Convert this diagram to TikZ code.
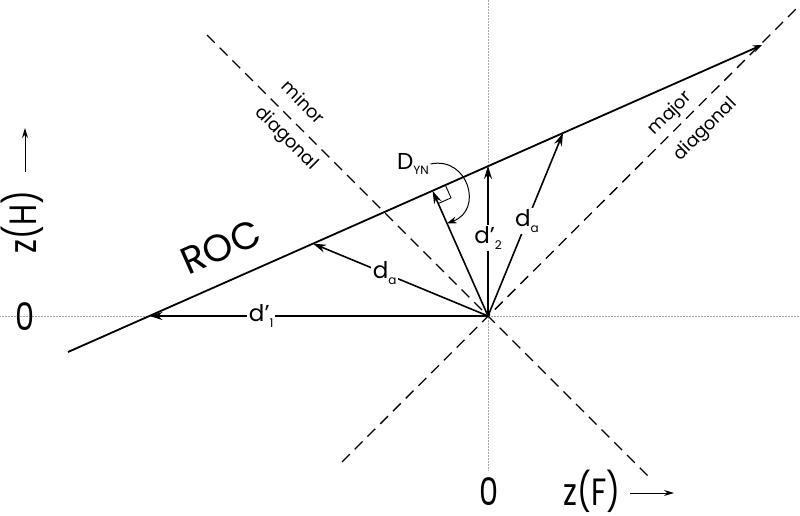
\documentclass[tikz,border=0pt]{standalone}
\usepackage{fontspec}
\usepackage{graphicx}
\setmainfont{Poppins}
\usetikzlibrary{arrows.meta, calc}
\newcommand{\lsub}[1]{\raisebox{-0.45ex}{\fontsize{12}{12}\selectfont #1}}
\newcommand{\narrow}[1]{\scalebox{0.8}[1]{#1}}

\begin{document}
\begin{tikzpicture}[x=1pt, y=-1pt,
        every node/.style={font=\fontsize{23}{23}\selectfont, inner sep=1.5pt},
        bigtext/.style={font=\fontsize{38}{38}\selectfont},
        diagtext/.style={font=\fontsize{18}{36}\selectfont, align=left},
        guide/.style={gray!70, line width=0.5pt, densely dotted},
        diag/.style={line width=1.3pt, dash pattern=on 11pt off 7pt},
        vec/.style={line width=1.6pt, -{Stealth[length=13pt,width=8pt]}},
        axarrow/.style={line width=1pt, -{Stealth[length=10pt,width=6pt]}},
        lbl/.style={fill=white}]
    \useasboundingbox (0,0) rectangle (800,516);

    % thin axes through the origin
    \coordinate (O) at (488,316);
    \coordinate (hL) at (0,316);
    \coordinate (hR) at (800,316);
    \coordinate (vT) at (488,0);
    \coordinate (vB) at (488,470);
    \draw[guide] (hL) -- (hR);
    \draw[guide] (vT) -- (vB);

    % diagonals
    \coordinate (majL) at (342,462);
    \coordinate (majR) at (797,8);
    \coordinate (minL) at (207,35);
    \coordinate (minR) at (650,478);
    \draw[diag] (majL) -- (majR);
    \draw[diag] (minL) -- (minR);

    % ROC line
    \coordinate (rocL) at (68,352);
    \coordinate (rocR) at (762,45);
    \draw[line width=1.8pt, -{Stealth[length=9pt,width=7pt]}] (rocL) -- (rocR);
    \node[font=\fontsize{38}{38}\selectfont, rotate=24] (roclabel) at (221,247) {ROC};

    % points on the ROC
    \coordinate (p1) at (149.5,316);
    \coordinate (p2) at (488,166);
    \coordinate (pa) at (313,243.6);
    \coordinate (pb) at (563,133);
    \coordinate (F) at ($(rocL)!(O)!(rocR)$);

    \draw[vec] (O) -- node[lbl, pos=0.67] {d’\lsub{1}} (p1);
    \draw[vec] (O) -- node[lbl, pos=0.59] {d\lsub{a}} (pa);
    \draw[vec] (O) -- node[lbl, pos=0.52] {d’\lsub{2}} (p2);
    \draw[vec] (O) -- node[lbl, pos=0.52] {d\lsub{a}} (pb);
    \draw[vec] (O) -- (F);

    % right angle at the foot
    \coordinate (q1) at ($(F)!14pt!(rocR)$);
    \coordinate (q2) at ($(F)!14pt!(O)$);
    \draw[line width=0.9pt] (q1) -- ($(q1)+(q2)-(F)$) -- (q2);

    \node (dyn) at (413,164) {D\lsub{YN}};
    \coordinate (dynTip) at ($(O)!0.74!(F)$);
    \draw[line width=1pt, -{Stealth[length=10pt,width=7pt]}] (dyn.east) .. controls (468,156) and (484,210) .. (dynTip);

    % diagonal labels
    \node[diagtext, rotate=-45] (minlabel) at (299,126) {minor\\diagonal};
    \node[diagtext, rotate=45] (majlabel) at (693,117) {major\\diagonal};

    % axis labels
    \node[bigtext, anchor=base] (zeroF) at (489,505) {\narrow{0}};
    \node[bigtext, anchor=base] (zF) at (592,505) {\narrow{z(F)}};
    \coordinate (fa) at (630,493);
    \coordinate (fb) at (674,493);
    \draw[axarrow] (fa) -- (fb);

    \node[bigtext] (zeroH) at (25,317) {\narrow{0}};
    \node[bigtext, rotate=90] (zH) at (22,222) {\narrow{z(H)}};
    \coordinate (ha) at (25,172);
    \coordinate (hb) at (25,128);
    \draw[axarrow] (ha) -- (hb);
\end{tikzpicture}
\end{document}
